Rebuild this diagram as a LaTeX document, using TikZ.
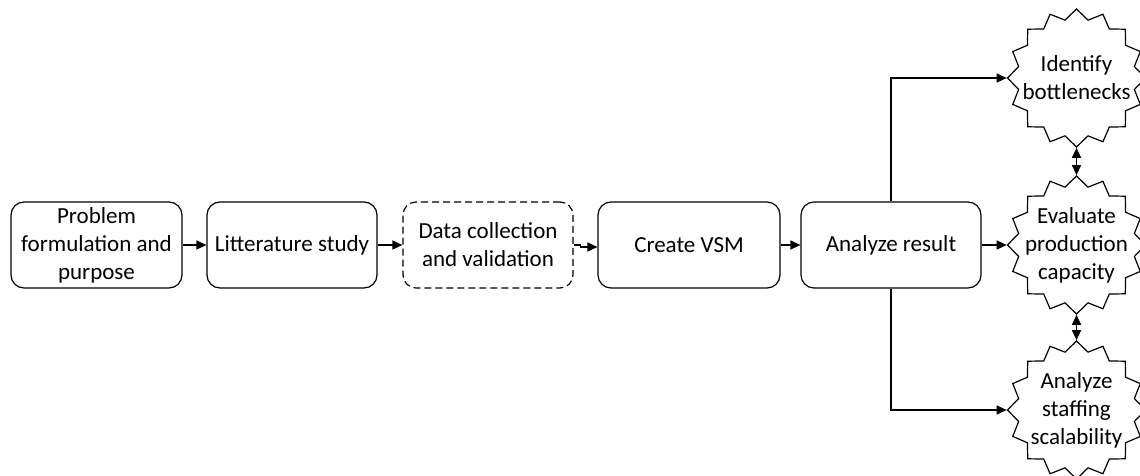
\documentclass[tikz,border=0pt]{standalone}
\usepackage{fontspec}
\setmainfont{Carlito}
\usetikzlibrary{shapes.geometric,arrows.meta,calc}
\begin{document}
\begin{tikzpicture}[x=1pt,y=-1pt,
  txt/.style={font=\fontsize{23}{28}\selectfont,align=center},
  box/.style={draw,rounded corners=13pt,line width=1.2pt,minimum height=86pt,inner sep=0pt,txt},
  dbox/.style={box,dash pattern=on 7pt off 4pt},
  burst/.style={draw,star,star points=16,star point ratio=1.17,minimum size=138pt,inner sep=0pt,line width=1.2pt},
  arr/.style={-{Triangle[length=10pt,width=9pt]},line width=1.2pt},
  darr/.style={{Triangle[length=10pt,width=9pt]}-{Triangle[length=10pt,width=9pt]},line width=1.2pt}
]
\useasboundingbox (0,0) rectangle (1140,476);
\node[box,minimum width=171pt] (b1) at (96.5,245) {Problem\\formulation and\\purpose};
\node[box,minimum width=170pt] (b2) at (292,245) {Litterature study};
\node[dbox,minimum width=170pt] (b3) at (488,245) {Data collection\\and validation};
\node[box,minimum width=182pt] (b4) at (689,245) {Create VSM};
\node[box,minimum width=180pt] (b5) at (891,245) {Analyze result};
\node[burst,label={[name=l1,txt]center:Identify\\bottlenecks}] (s1) at (1076.5,78) {};
\node[burst,label={[name=l2,txt]center:Evaluate\\production\\capacity}] (s2) at (1076.5,245) {};
\node[burst,label={[name=l3,txt]center:Analyze\\staffing\\scalability}] (s3) at (1076.5,410) {};
\draw[arr] (b1.east) -- (b2.west);
\draw[arr] (b2.east) -- (b3.west);
\draw[arr] (b3.east) -- ++(7,0) |- ($(b4.west)+(0,2)$);
\draw[arr] (b4.east) -- (b5.west);
\draw[arr] (b5.north) |- (s1.west);
\draw[arr] (b5.east) -- (s2.west);
\draw[arr] (b5.south) |- (s3.west);
\draw[darr] (s1.south) -- (s2.north);
\draw[darr] (s2.south) -- (s3.north);
\end{tikzpicture}
\end{document}
